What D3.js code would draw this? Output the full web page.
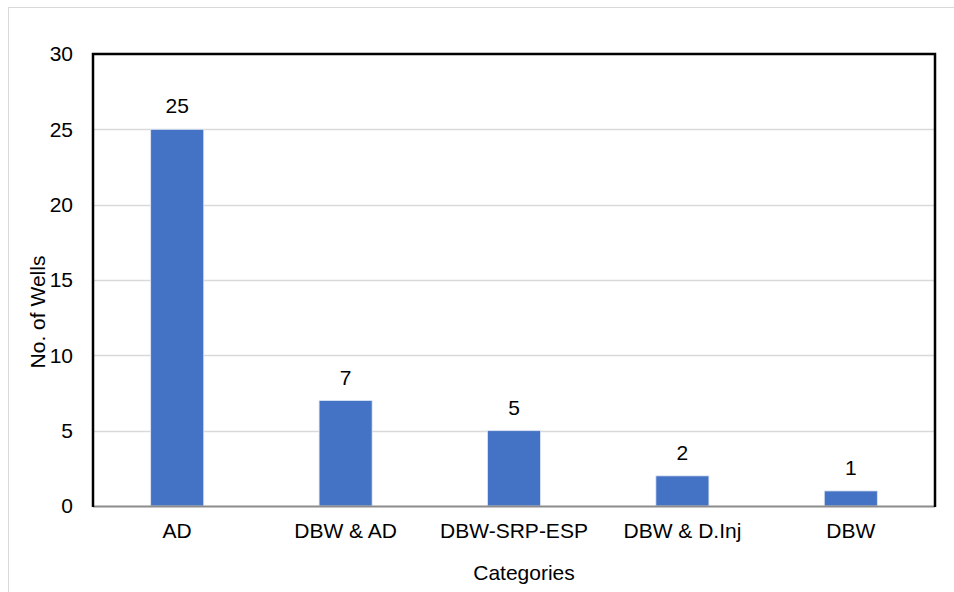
<!DOCTYPE html>
<html>
<head>
<meta charset="utf-8">
<script src="https://cdn.jsdelivr.net/npm/d3@7"></script>
<style>
  html, body { margin: 0; padding: 0; background: #fff; }
  svg { display: block; }
  text { font-family: "Liberation Sans", Arial, sans-serif; fill: #000; }
</style>
</head>
<body>
<svg id="chart" width="954" height="592"></svg>
<script>
const categories = ["AD", "DBW & AD", "DBW-SRP-ESP", "DBW & D.Inj", "DBW"];
const wellCounts = [25, 7, 5, 2, 1];
const yTicks = [0, 5, 10, 15, 20, 25, 30];

const W = 954, H = 592;
const plot = { left: 93, top: 54, right: 935, bottom: 506 };
const FS = 21;
const FONT = "Liberation Sans, Arial, sans-serif";

const svg = d3.select("#chart");

// outer chart-area border
svg.append("rect")
  .attr("x", 8.5).attr("y", 7.5)
  .attr("width", W).attr("height", H)
  .attr("fill", "#fff").attr("stroke", "#d9d9d9").attr("stroke-width", 1);

const x = d3.scaleBand()
  .domain(categories)
  .range([plot.left, plot.right])
  .paddingInner(0.685).paddingOuter(0.3425);

const y = d3.scaleLinear().domain([0, 30]).range([plot.bottom, plot.top]);

// horizontal gridlines
svg.append("g")
  .selectAll("line")
  .data(yTicks.filter(d => d > 0 && d < 30))
  .join("line")
  .attr("x1", plot.left).attr("x2", plot.right)
  .attr("y1", d => Math.round(y(d)) + 0.5).attr("y2", d => Math.round(y(d)) + 0.5)
  .attr("stroke", "#d9d9d9").attr("stroke-width", 1.5);

// bars
svg.append("g")
  .selectAll("rect")
  .data(categories)
  .join("rect")
  .attr("x", d => x(d))
  .attr("y", (d, i) => y(wellCounts[i]))
  .attr("width", x.bandwidth())
  .attr("height", (d, i) => y(0) - y(wellCounts[i]))
  .attr("fill", "#4472c4")
  .attr("stroke", "#dfe6f3").attr("stroke-width", 0.8);

// value labels
svg.append("g")
  .selectAll("text")
  .data(categories)
  .join("text")
  .attr("x", d => x(d) + x.bandwidth() / 2)
  .attr("y", (d, i) => y(wellCounts[i]) - 16)
  .attr("text-anchor", "middle")
  .attr("font-size", FS)
  .text((d, i) => wellCounts[i]);

// x axis line
svg.append("line")
  .attr("x1", plot.left).attr("x2", plot.right)
  .attr("y1", plot.bottom + 0.5).attr("y2", plot.bottom + 0.5)
  .attr("stroke", "#8c8c8c").attr("stroke-width", 2);

// frame: black on top, left and right
svg.append("path")
  .attr("d", `M${plot.left},${plot.bottom + 1}V${plot.top}H${plot.right}V${plot.bottom + 1}`)
  .attr("fill", "none").attr("stroke", "#000").attr("stroke-width", 2.5);

// y axis
const yAxis = d3.axisLeft(y).tickValues(yTicks).tickSize(0).tickPadding(20);
const gy = svg.append("g").attr("transform", `translate(${plot.left},0)`).call(yAxis);
gy.select(".domain").remove();
gy.attr("font-size", FS).attr("font-family", FONT);
gy.selectAll("text").attr("fill", "#000");

// x axis labels
const xAxis = d3.axisBottom(x).tickSize(0).tickPadding(17);
const gx = svg.append("g").attr("transform", `translate(0,${plot.bottom})`).call(xAxis);
gx.select(".domain").remove();
gx.attr("font-size", FS).attr("font-family", FONT);
gx.selectAll("text").attr("fill", "#000");

// axis titles
svg.append("text")
  .attr("x", 524).attr("y", 580)
  .attr("text-anchor", "middle").attr("font-size", FS)
  .text("Categories");

svg.append("text")
  .attr("transform", "translate(45,312) rotate(-90)")
  .attr("text-anchor", "middle").attr("font-size", FS)
  .text("No. of Wells");
</script>
</body>
</html>
